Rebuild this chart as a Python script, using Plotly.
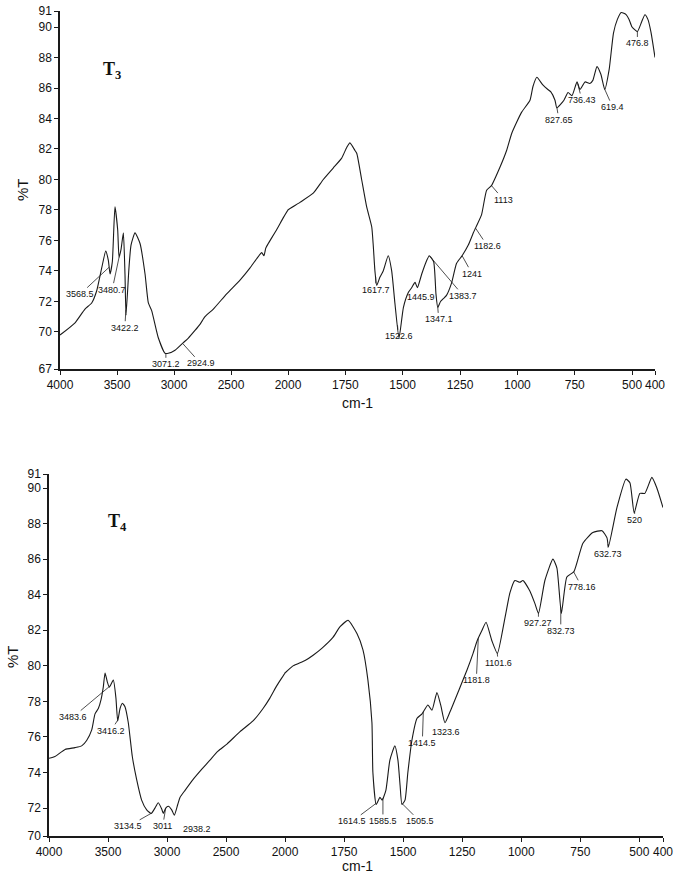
import numpy as np
import plotly.graph_objects as go

# ---- T3 spectrum (wavenumber cm-1 -> %T) ----
t3_wavenumber = [4000, 3868, 3781, 3722, 3678, 3634, 3599, 3576, 3561, 3541, 3518, 3494, 3482, 3465,
                 3444, 3430, 3421, 3395, 3377, 3342, 3298, 3254, 3225, 3196, 3137, 3079, 3050, 2991,
                 2918, 2874, 2816, 2772, 2728, 2655, 2538, 2421, 2333, 2275, 2231, 2211, 2195, 2173,
                 2100, 2041, 2000, 1948, 1890, 1846, 1803, 1766, 1744, 1730, 1708, 1700, 1679, 1657,
                 1635, 1628, 1621, 1613, 1599, 1585, 1563, 1548, 1534, 1516, 1497, 1475, 1461, 1446,
                 1436, 1417, 1395, 1384, 1365, 1355, 1347, 1335, 1322, 1309, 1287, 1265, 1241, 1214,
                 1192, 1183, 1156, 1134, 1113, 1076, 1047, 1024, 982, 945, 932, 915, 889, 867, 854,
                 836, 828, 797, 779, 762, 740, 727, 705, 684, 671, 653, 636, 619, 600, 581, 564, 547,
                 525, 513, 500, 477, 458, 444, 431, 418, 400]
t3_transmittance = [69.8, 70.6, 71.5, 71.9, 72.7, 74.2, 75.3, 74.7, 73.8, 74.6, 78.2, 76.7, 74.9, 75.4,
                    76.5, 73.8, 71.1, 74.2, 75.7, 76.5, 75.8, 73.8, 71.9, 71.4, 69.6, 68.6, 68.6, 68.8,
                    69.3, 69.6, 70.1, 70.5, 71.0, 71.5, 72.5, 73.4, 74.2, 74.8, 75.2, 75.0, 75.5, 75.8,
                    76.7, 77.5, 78.0, 78.5, 79.1, 80.0, 80.75, 81.4, 82.1, 82.4, 81.9, 81.7, 80.0, 78.2,
                    76.9, 75.6, 74.0, 73.05, 73.6, 74.0, 75.0, 74.0, 71.9, 69.6, 71.6, 72.6, 72.9, 73.25,
                    72.9, 73.8, 74.7, 75.0, 74.6, 72.5, 71.6, 72.0, 72.2, 72.4, 73.2, 74.5, 75.0, 75.7,
                    76.5, 76.8, 77.7, 79.3, 79.6, 80.8, 81.9, 83.05, 84.4, 85.2, 86.1, 86.7, 86.2, 85.9,
                    85.75, 85.2, 84.7, 85.2, 85.7, 85.5, 86.4, 85.9, 86.4, 86.3, 86.5, 87.4, 86.9, 85.9,
                    87.2, 89.6, 90.5, 90.95, 90.8, 90.5, 90.0, 89.7, 90.35, 90.8, 90.5, 89.7, 88.0]
t3_peaks = ["3568.5", "3480.7", "3422.2", "3071.2", "2924.9", "1617.7", "1522.6", "1445.9",
            "1383.7", "1347.1", "1241", "1182.6", "1113", "827.65", "736.43", "619.4", "476.8"]

# ---- T4 spectrum ----
t4_wavenumber = [4000, 3949, 3864, 3780, 3723, 3681, 3638, 3610, 3582, 3559, 3540, 3525, 3506, 3489,
                 3455, 3433, 3418, 3398, 3378, 3356, 3328, 3294, 3257, 3215, 3172, 3134, 3102, 3074,
                 3045, 3031, 3011, 2989, 2960, 2938, 2909, 2890, 2847, 2780, 2703, 2636, 2568, 2492,
                 2381, 2271, 2186, 2127, 2068, 2000, 1966, 1915, 1881, 1843, 1797, 1767, 1733, 1695,
                 1670, 1649, 1632, 1628, 1614, 1598, 1589, 1573, 1556, 1535, 1522, 1513, 1505, 1492,
                 1480, 1463, 1441, 1420, 1395, 1378, 1357, 1341, 1323, 1302, 1259, 1230, 1204, 1187,
                 1166, 1149, 1124, 1101, 1069, 1048, 1027, 1006, 993, 963, 942, 927, 900, 866, 849,
                 830, 807, 777, 739, 697, 658, 637, 631, 595, 557, 540, 522, 498, 477, 447, 426, 400]
t4_transmittance = [74.8, 74.9, 75.3, 75.4, 75.5, 75.8, 76.4, 77.3, 77.6, 78.1, 78.8, 79.6, 79.1, 78.8,
                    79.2, 78.2, 76.9, 77.6, 77.9, 77.7, 76.8, 74.9, 73.6, 72.45, 71.9, 71.7, 72.0, 72.3,
                    71.95, 71.7, 72.0, 72.1, 71.9, 71.6, 72.2, 72.6, 73.0, 73.6, 74.2, 74.7, 75.2, 75.6,
                    76.3, 76.9, 77.6, 78.2, 78.9, 79.6, 80.0, 80.3, 80.6, 81.0, 81.6, 82.2, 82.56, 81.8,
                    80.9, 79.2, 76.8, 74.0, 72.2, 72.6, 72.45, 73.0, 74.7, 75.5, 74.7, 73.3, 72.2, 72.45,
                    74.0, 75.8, 77.05, 77.3, 77.8, 77.5, 78.5, 77.8, 76.8, 77.4, 78.8, 79.75, 80.7, 81.4,
                    82.0, 82.45, 81.4, 80.7, 82.7, 84.1, 84.8, 84.7, 84.8, 84.2, 83.5, 82.95, 84.8, 86.0,
                    85.5, 82.95, 85.0, 85.3, 86.9, 87.5, 87.6, 87.2, 86.7, 88.9, 90.5, 90.3, 88.6, 89.7,
                    89.7, 90.6, 90.0, 88.9]
t4_peaks = ["3483.6", "3416.2", "3134.5", "3011", "2938.2", "1614.5", "1585.5", "1505.5", "1414.5",
            "1323.6", "1181.8", "1101.6", "927.27", "832.73", "778.16", "632.73", "520"]

# label offsets (px) from the marked point to the label centre
t3_offsets = [(-29, 27), (-7, 33), (-1, 18), (0, 11), (18, 20), (0, 13), (1, 11), (6, 15), (34, 40),
              (1, 12), (10, 18), (12, 18), (12, 14), (2, 12), (4, 16), (8, 18), (0, 12)]
t4_offsets = [(-37, 31), (-7, 11), (-23, 13), (-3, 18), (23, 14), (-24, 18), (0, 23), (18, 18), (-1, 31),
              (1, 10), (-2, 42), (1, 10), (0, 10), (0, 24), (8, 15), (0, 10), (0, 9)]

W, H = 685, 879


def fx(p):
    return p / W


def fy(p):
    return 1 - p / H


NARROW = "Liberation Sans Narrow, Arial Narrow, Liberation Sans, Arial"

fig = go.Figure()

panels = [
    ("x", "x2", "y", t3_wavenumber, t3_transmittance, t3_peaks, t3_offsets),
    ("x3", "x4", "y2", t4_wavenumber, t4_transmittance, t4_peaks, t4_offsets),
]

annotations = []
for xl, xr, yy, wn, tr, peaks, offs in panels:
    # same curve on both halves of the broken axis, each half clips its own part
    for xa in (xl, xr):
        fig.add_trace(go.Scatter(x=wn, y=tr, mode="lines", xaxis=xa, yaxis=yy,
                                 line=dict(color="#1a1a1a", width=1.1, shape="spline", smoothing=0.5),
                                 showlegend=False, hoverinfo="skip"))
    wn_arr = np.array(wn[::-1], dtype=float)
    tr_arr = np.array(tr[::-1], dtype=float)
    for lab, (ax, ay) in zip(peaks, offs):
        w = float(lab)
        v = float(np.interp(w, wn_arr, tr_arr))
        annotations.append(dict(
            x=w, y=v, xref=xl if w >= 2000 else xr, yref=yy, text=lab,
            showarrow=True, arrowhead=0, arrowwidth=0.8, arrowcolor="#222",
            ax=ax, ay=ay, standoff=0, startstandoff=0,
            font=dict(family=NARROW, size=9, color="#111")))

# axis titles and sample names
for ty, cy, tx in [("%T", 190, 22), ("%T", 657, 12)]:
    annotations.append(dict(text=ty, x=fx(tx), y=fy(cy), xref="paper", yref="paper",
                            xanchor="center", yanchor="middle", showarrow=False, textangle=-90,
                            font=dict(family="Liberation Sans, Arial", size=15, color="#111")))
for cy in (403, 866):
    annotations.append(dict(text="cm-1", x=fx(357), y=fy(cy), xref="paper", yref="paper",
                            xanchor="center", yanchor="middle", showarrow=False,
                            font=dict(family="Liberation Sans, Arial", size=14, color="#111")))
for txt, lx, cy in [("<b>T<sub>3</sub></b>", 101, 70), ("<b>T<sub>4</sub></b>", 106, 522)]:
    annotations.append(dict(text=txt, x=fx(lx), y=fy(cy), xref="paper", yref="paper",
                            xanchor="left", yanchor="middle", showarrow=False,
                            font=dict(family="Liberation Serif, Times New Roman, serif", size=18,
                                      color="#111")))

axis_style = dict(showline=True, linecolor="#1a1a1a", linewidth=1.5, ticks="outside", ticklen=4,
                  tickwidth=1, tickcolor="#1a1a1a", showgrid=False, zeroline=False,
                  automargin=False, tickangle=0,
                  tickfont=dict(family=NARROW, size=12, color="#111"))

left_ticks = [4000, 3500, 3000, 2500, 2000]
right_ticks = [1750, 1500, 1250, 1000, 750, 500, 400]

fig.update_layout(
    width=W, height=H, margin=dict(l=0, r=0, t=0, b=0),
    paper_bgcolor="white", plot_bgcolor="white", showlegend=False,
    annotations=annotations,
    xaxis=dict(axis_style, domain=[fx(60), fx(288)], range=[4000, 2000], anchor="y",
               tickvals=left_ticks),
    xaxis2=dict(axis_style, domain=[fx(288), fx(655)], range=[2000, 400], anchor="y",
                tickvals=right_ticks),
    yaxis=dict(axis_style, domain=[fy(369), fy(11)], range=[67.57, 91.05], anchor="x",
               tickvals=[67.57, 70, 72, 74, 76, 78, 80, 82, 84, 86, 88, 90, 91.05],
               ticktext=["67", "70", "72", "74", "76", "78", "80", "82", "84", "86", "88", "90", "91"]),
    xaxis3=dict(axis_style, domain=[fx(49), fx(285)], range=[4000, 2000], anchor="y2",
                tickvals=left_ticks),
    xaxis4=dict(axis_style, domain=[fx(285), fx(663)], range=[2000, 400], anchor="y2",
                tickvals=right_ticks),
    yaxis2=dict(axis_style, domain=[fy(836), fy(474)], range=[70.43, 90.79], anchor="x3",
                tickvals=[70.43, 72, 74, 76, 78, 80, 82, 84, 86, 88, 90, 90.79],
                ticktext=["70", "72", "74", "76", "78", "80", "82", "84", "86", "88", "90", "91"]),
)

# drop the default 8px body margin so the figure sits at the window corner
fig.write_html("out.html", config={"displayModeBar": False},
               post_script="document.body.style.margin='0px';")
